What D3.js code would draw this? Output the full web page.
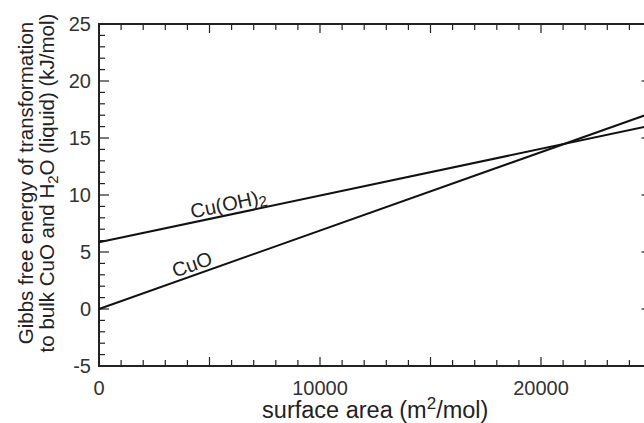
<!DOCTYPE html>
<html>
<head>
<meta charset="utf-8">
<script src="https://cdn.jsdelivr.net/npm/d3@7"></script>
<style>
  body { margin: 0; background: #fff; }
  svg { display: block; font-family: "Liberation Sans", Arial, sans-serif; }
</style>
</head>
<body>
<svg id="chart" width="644" height="423"></svg>
<script>
// data
const xDomain = [0, 25000];
const yDomain = [-5, 25];
const xMajorTicks = [0, 10000, 20000];
const yMajorTicks = [-5, 0, 5, 10, 15, 20, 25];
const cuoLine = [[0, 0], [25000, 17.2]];
const cuohLine = [[0, 5.85], [25000, 16.1]];
// label anchor x (data units) for each line
const cuoLabelX = 3500;
const cuohLabelX = 4250;

var svg = d3.select("#chart");
var margin = {top: 24, left: 99},
    width = 552.5,
    height = 342;

var x = d3.scaleLinear().domain(xDomain).range([0, width]);
var y = d3.scaleLinear().domain(yDomain).range([height, 0]);

var g = svg.append("g").attr("transform", "translate(" + margin.left + "," + margin.top + ")");

// minor ticks every 1000 / every 1, longer ones every 5000 / every 5
var xTicks = d3.range(xDomain[0], xDomain[1] + 1, 1000);
var yTicks = d3.range(yDomain[0], yDomain[1] + 0.001, 1);
function xLen(d) { return d % 5000 === 0 ? 9 : 6; }
function yLen(d) { return d % 5 === 0 ? 10 : 6; }

var ticks = g.append("g").attr("stroke", "#222").attr("stroke-width", 1.2);
xTicks.forEach(function (d) {
  ticks.append("line").attr("x1", x(d)).attr("x2", x(d)).attr("y1", height).attr("y2", height - xLen(d));
  ticks.append("line").attr("x1", x(d)).attr("x2", x(d)).attr("y1", 0).attr("y2", xLen(d));
});
yTicks.forEach(function (d) {
  ticks.append("line").attr("x1", 0).attr("x2", yLen(d)).attr("y1", y(d)).attr("y2", y(d));
  ticks.append("line").attr("x1", width).attr("x2", width - yLen(d)).attr("y1", y(d)).attr("y2", y(d));
});

// frame
g.append("rect")
  .attr("width", width).attr("height", height)
  .attr("fill", "none").attr("stroke", "#222").attr("stroke-width", 2);

// tick labels
g.selectAll(".xlbl").data(xMajorTicks).enter().append("text")
  .attr("class", "xlbl")
  .attr("x", function (d) { return x(d); })
  .attr("y", height + 29)
  .attr("text-anchor", "middle")
  .attr("font-size", 20).attr("fill", "#333")
  .text(function (d) { return d; });

g.selectAll(".ylbl").data(yMajorTicks).enter().append("text")
  .attr("class", "ylbl")
  .attr("x", -8)
  .attr("y", function (d) { return y(d); })
  .attr("dy", "0.36em")
  .attr("text-anchor", "end")
  .attr("font-size", 20).attr("fill", "#333")
  .text(function (d) { return d; });

// data lines
var line = d3.line().x(function (d) { return x(d[0]); }).y(function (d) { return y(d[1]); });
[cuoLine, cuohLine].forEach(function (s) {
  g.append("path").attr("d", line(s)).attr("fill", "none")
    .attr("stroke", "#111").attr("stroke-width", 2);
});

// labels along the lines
function interp(s, xv) {
  var t = (xv - s[0][0]) / (s[1][0] - s[0][0]);
  return s[0][1] + t * (s[1][1] - s[0][1]);
}
function angle(s) {
  var dx = x(s[1][0]) - x(s[0][0]), dy = y(s[1][1]) - y(s[0][1]);
  return Math.atan2(dy, dx) * 180 / Math.PI;
}
function lineLabel(s, xv, off) {
  var px = x(xv), py = y(interp(s, xv));
  return g.append("text")
    .attr("transform", "translate(" + px + "," + py + ") rotate(" + angle(s) + ") translate(0," + (-off) + ")")
    .attr("font-size", 20).attr("fill", "#222");
}
lineLabel(cuoLine, cuoLabelX, 4).text("CuO");
var lb = lineLabel(cuohLine, cuohLabelX, 4);
lb.append("tspan").text("Cu(OH)");
lb.append("tspan").attr("font-size", 15).attr("dy", 3).text("2");

// axis titles
var xt = svg.append("text")
  .attr("x", margin.left + width / 2).attr("y", 418)
  .attr("text-anchor", "middle").attr("font-size", 23.5).attr("fill", "#222");
xt.append("tspan").text("surface area (m");
xt.append("tspan").attr("font-size", 17).attr("dy", -9).text("2");
xt.append("tspan").attr("dy", 9).text("/mol)");

var yt = svg.append("text")
  .attr("transform", "translate(33,183) rotate(-90)")
  .attr("text-anchor", "middle").attr("font-size", 20.5).attr("fill", "#222");
yt.append("tspan").attr("x", 0).attr("y", 0).text("Gibbs free energy of transformation");
var yt2 = yt.append("tspan").attr("x", 0).attr("y", 21);
yt2.text("to bulk CuO and H");
yt.append("tspan").attr("font-size", 15).attr("dy", 4).text("2");
yt.append("tspan").attr("dy", -4).text("O (liquid) (kJ/mol)");
</script>
</body>
</html>
